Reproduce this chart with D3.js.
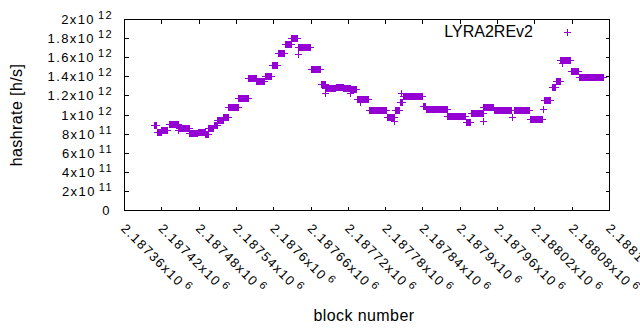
<!DOCTYPE html>
<html>
<head>
<style>
    body { margin: 0; background: #fff; }
    svg { display: block; font-family: "Liberation Sans", Arial, sans-serif; }
    .border { fill: none; stroke: #000; stroke-width: 1px; shape-rendering: crispEdges; }
    .tick { stroke: #000; stroke-width: 1px; shape-rendering: crispEdges; }
    .ticklabel { font-size: 13px; letter-spacing: 1.4px; fill: #000; }
    .title { font-size: 16px; letter-spacing: 0.4px; fill: #000; }
    .pt { fill: none; stroke: #9400d3; stroke-width: 1px; shape-rendering: crispEdges; }
</style>
</head>
<body>
<script src="https://d3js.org/d3.v7.min.js"></script>
<script>
// runs of blocks with the same hashrate (start block, end block, h/s)
var runStart = [2187407, 2187412, 2187419, 2187431, 2187446, 2187448, 2187464, 2187478, 2187490, 2187495,
    2187504, 2187509, 2187519, 2187527, 2187543, 2187559, 2187572, 2187586, 2187597, 2187607,
    2187618, 2187628, 2187639, 2187639, 2187660, 2187676, 2187683, 2187683, 2187700, 2187712,
    2187722, 2187723, 2187734, 2187738, 2187753, 2187782, 2187794, 2187795, 2187803, 2187805,
    2187808, 2187840, 2187845, 2187879, 2187909, 2187917, 2187936, 2187937, 2187954, 2187983,
    2187986, 2188012, 2188033, 2188034, 2188047, 2188054, 2188063, 2188061, 2188078, 2188091];
var runEnd = [2187411, 2187418, 2187429, 2187446, 2187446, 2187463, 2187477, 2187489, 2187494, 2187503,
    2187508, 2187518, 2187526, 2187542, 2187558, 2187571, 2187585, 2187596, 2187606, 2187617,
    2187627, 2187638, 2187639, 2187659, 2187675, 2187682, 2187683, 2187699, 2187711, 2187722,
    2187722, 2187733, 2187752, 2187738, 2187781, 2187794, 2187794, 2187802, 2187807, 2187805,
    2187839, 2187844, 2187878, 2187908, 2187916, 2187936, 2187936, 2187953, 2187981, 2187983,
    2188011, 2188032, 2188033, 2188045, 2188053, 2188060, 2188063, 2188077, 2188090, 2188129];
var runRate = [8.92e11, 8.22e11, 8.43e11, 9.03e11, 8.43e11, 8.67e11, 8.12e11, 8.19e11, 8.06e11, 8.64e11,
    8.95e11, 9.48e11, 9.79e11, 1.089e12, 1.173e12, 1.387e12, 1.351e12, 1.405e12, 1.524e12, 1.646e12,
    1.743e12, 1.803e12, 1.639e12, 1.709e12, 1.479e12, 1.321e12, 1.227e12, 1.286e12, 1.296e12, 1.280e12,
    1.227e12, 1.269e12, 1.164e12, 1.139e12, 1.052e12, 0.974e12, 0.940e12, 1.052e12, 1.131e12, 1.227e12,
    1.199e12, 1.091e12, 1.060e12, 0.993e12, 0.927e12, 1.018e12, 0.940e12, 1.087e12, 1.052e12, 0.982e12,
    1.052e12, 0.961e12, 1.060e12, 1.160e12, 1.296e12, 1.359e12, 1.541e12, 1.579e12, 1.458e12, 1.401e12];

var xTicks = [2187360, 2187420, 2187480, 2187540, 2187600, 2187660, 2187720,
    2187780, 2187840, 2187900, 2187960, 2188020, 2188080, 2188140];
var yTicks = [0, 2e11, 4e11, 6e11, 8e11, 1e12, 1.2e12, 1.4e12, 1.6e12, 1.8e12, 2e12];

var seriesName = "LYRA2REv2";

var data = [];
runStart.forEach(function(s, i) {
    for (var b = s; b <= runEnd[i]; b++) data.push({ block: b, rate: runRate[i] });
});

var width = 640, height = 330;
var svg = d3.select("body").append("svg")
    .attr("width", width)
    .attr("height", height);

var x = d3.scaleLinear()
    .domain([xTicks[0], xTicks[xTicks.length - 1]])
    .range([124.5, 609.5]);
var y = d3.scaleLinear()
    .domain([0, 2e12])
    .range([210.5, 19.5]);

// gnuplot style "2x10^12" labels
function sci(v) {
    if (v === 0) return ["0", null];
    var e = Math.floor(Math.log10(v) + 1e-9);
    var m = (v / Math.pow(10, e)).toPrecision(6).replace(/\.?0+$/, "");
    return [m + "x10", String(e)];
}

function px(v) { return Math.round(v - 0.5) + 0.5; }

// ticks, mirrored on all sides
var tl = 4;
xTicks.forEach(function(t) {
    var tx = px(x(t));
    svg.append("line").attr("class", "tick")
        .attr("x1", tx).attr("x2", tx).attr("y1", y.range()[0]).attr("y2", y.range()[0] - tl);
    svg.append("line").attr("class", "tick")
        .attr("x1", tx).attr("x2", tx).attr("y1", y.range()[1]).attr("y2", y.range()[1] + tl);
});
yTicks.forEach(function(t) {
    var ty = px(y(t));
    svg.append("line").attr("class", "tick")
        .attr("x1", x.range()[0]).attr("x2", x.range()[0] + tl).attr("y1", ty).attr("y2", ty);
    svg.append("line").attr("class", "tick")
        .attr("x1", x.range()[1]).attr("x2", x.range()[1] - tl).attr("y1", ty).attr("y2", ty);
});

svg.append("rect").attr("class", "border")
    .attr("x", x.range()[0]).attr("y", y.range()[1])
    .attr("width", x.range()[1] - x.range()[0])
    .attr("height", y.range()[0] - y.range()[1]);

// y tick labels
yTicks.forEach(function(t) {
    var p = sci(t);
    var txt = svg.append("text").attr("class", "ticklabel")
        .attr("x", p[1] ? 113 : 111)
        .attr("y", y(t) + 4.5)
        .attr("text-anchor", "end");
    txt.append("tspan").text(p[0]);
    if (p[1]) txt.append("tspan").attr("dx", 3).attr("dy", -5).style("font-size", "11px").text(p[1]);
});

// x tick labels, rotated
xTicks.forEach(function(t) {
    var p = sci(t);
    var txt = svg.append("g")
        .attr("transform", "translate(" + (x(t) - 1) + ",226) rotate(45)")
        .append("text").attr("class", "ticklabel")
        .attr("x", 0).attr("y", 4.5);
    txt.append("tspan").text(p[0]);
    txt.append("tspan").attr("dx", 3).attr("dy", -5).style("font-size", "11px").text(p[1]);
});

// axis titles
svg.append("text").attr("class", "title")
    .attr("x", 364).attr("y", 321)
    .attr("text-anchor", "middle")
    .text("block number");
svg.append("text").attr("class", "title")
    .attr("transform", "translate(21.7,115) rotate(-90)")
    .attr("text-anchor", "middle")
    .text("hashrate [h/s]");

// points
function plus(cx, cy) {
    cx = Math.round(cx); cy = Math.round(cy);
    return "M" + (cx - 3) + "," + (cy + 0.5) + "h7M" + (cx + 0.5) + "," + (cy - 3) + "v7";
}
svg.append("g").selectAll("path")
    .data(data)
    .enter().append("path")
    .attr("class", "pt")
    .attr("d", function(d) { return plus(x(d.block), y(d.rate)); });

// legend
svg.append("text").attr("class", "title")
    .attr("x", 533).attr("y", 37)
    .attr("text-anchor", "end")
    .style("letter-spacing", "0px")
    .text(seriesName);
svg.append("path").attr("class", "pt").attr("d", plus(567, 32));
</script>
</body>
</html>
